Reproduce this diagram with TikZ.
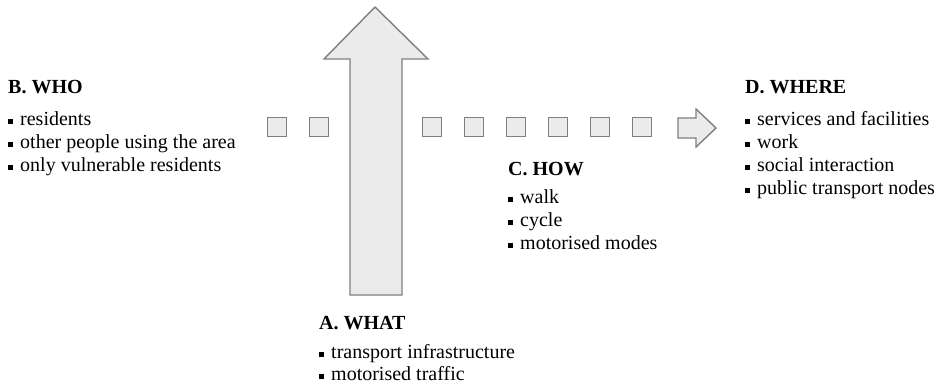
\documentclass[tikz,border=0pt]{standalone}
\usepackage{fontspec}
\setmainfont{Liberation Serif}
\usetikzlibrary{positioning}
\definecolor{boxfill}{HTML}{EBEBEB}
\definecolor{boxline}{HTML}{7F7F7F}
\tikzset{
    head/.style={anchor=base west, inner sep=0pt, font=\fontsize{20}{23}\selectfont\bfseries},
    item/.style={anchor=base west, inner sep=0pt, font=\fontsize{20}{23}\selectfont},
    stepbox/.style={draw=boxline, fill=boxfill, line width=1.4pt, minimum size=19pt, inner sep=0pt},
    shape arrow/.style={draw=boxline, fill=boxfill, line width=1.4pt, line join=miter}
}
\newcommand{\blt}{\rule[1.5pt]{4.5pt}{4.5pt}\hspace{7.5pt}}

\begin{document}
\begin{tikzpicture}[x=1pt, y=-1pt]
\useasboundingbox (0,0) rectangle (941,386);
% Big arrow (A)
\draw[shape arrow] (350,295) -- (350,59) -- (324,59) -- (375,7) -- (428,59) -- (402,59) -- (402,295) -- cycle;
% Row of squares
\foreach \x [count=\i] in {277,319,432,474,516,558,600,642}
    \node[stepbox] (sq\i) at (\x,127) {};
% Small arrow towards D
\draw[shape arrow] (678,118) -- (696,118) -- (696,109) -- (716,128) -- (696,147) -- (696,138) -- (678,138) -- cycle;
% B. WHO
\node[head] (who) at (8,93) {B. WHO};
\foreach \t [count=\i] in {residents, other people using the area, only vulnerable residents}
    \node[item] (who\i) at (8,125+23*\i-23) {\blt\t};
% C. HOW
\node[head] (how) at (508,175) {C. HOW};
\foreach \t [count=\i] in {walk, cycle, motorised modes}
    \node[item] (how\i) at (508,203+23*\i-23) {\blt\t};
% D. WHERE
\node[head] (where) at (745,93) {D. WHERE};
\foreach \t [count=\i] in {services and facilities, work, social interaction, public transport nodes}
    \node[item] (where\i) at (745,125+23*\i-23) {\blt\t};
% A. WHAT
\node[head] (what) at (319,329) {A. WHAT};
\foreach \t [count=\i] in {transport infrastructure, motorised traffic}
    \node[item] (what\i) at (319,358+22*\i-22) {\blt\t};
\end{tikzpicture}
\end{document}
